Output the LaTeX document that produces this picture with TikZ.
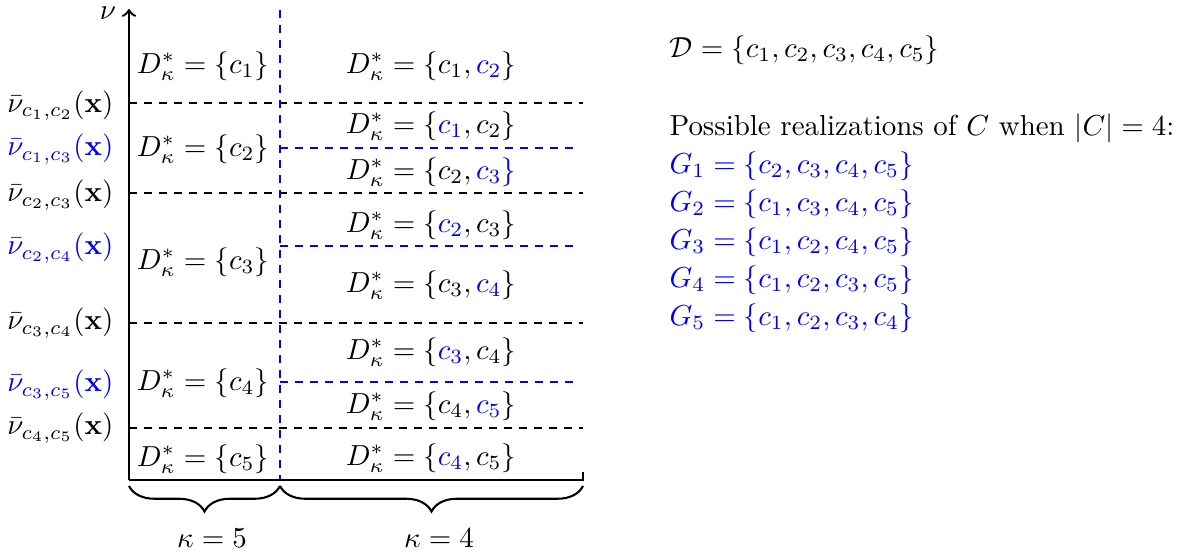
\documentclass[tikz,border=0pt]{standalone}
\usetikzlibrary{decorations.pathreplacing}
\begin{document}
\begin{tikzpicture}[x=0.33333pt,y=-0.33333pt,
  every node/.append style={scale=0.965},
  axis/.style={line width=0.8pt},
  bdash/.style={line width=0.7pt, dash pattern=on 2.8pt off 2.2pt},
  bluedash/.style={bdash, blue},
  lbl/.style={anchor=east, inner sep=0pt},
  setl/.style={inner sep=0pt},
  rtxt/.style={anchor=base west, inner sep=0pt},
  brc/.style={line width=0.7pt, decorate, decoration={brace, mirror, amplitude=8.5pt}}]
\useasboundingbox (0,0) rectangle (1185,556);
% axes
\coordinate (O) at (129,480);
\coordinate (Ytop) at (129,9);
\coordinate (Xend) at (583,480);
\coordinate (Xtick) at (583,472);
\draw[axis,->] (O) -- (Ytop);
\draw[axis] (O) -- (Xend) -- (Xtick);
\node[inner sep=0pt] (nu) at (108,13) {$\nu$};
% black dashed thresholds
\foreach \y in {103,193,323,428} {
  \draw[bdash] (129,\y) -- (583,\y);
}
% blue dashed
\coordinate (Vtop) at (280,10);
\coordinate (Vbot) at (280,480);
\draw[bluedash] (Vtop) -- (Vbot);
\foreach \y in {148,246,382} {
  \draw[bluedash] (280,\y) -- (577,\y);
}
% left labels
\node[lbl] (l12) at (114,105.5) {$\bar\nu_{c_1,c_2}(\mathbf{x})$};
\node[lbl,text=blue] (l13) at (114,149) {$\bar\nu_{c_1,c_3}(\mathbf{x})$};
\node[lbl] (l23) at (114,195) {$\bar\nu_{c_2,c_3}(\mathbf{x})$};
\node[lbl,text=blue] (l24) at (114,248) {$\bar\nu_{c_2,c_4}(\mathbf{x})$};
\node[lbl] (l34) at (114,323) {$\bar\nu_{c_3,c_4}(\mathbf{x})$};
\node[lbl,text=blue] (l35) at (114,385) {$\bar\nu_{c_3,c_5}(\mathbf{x})$};
\node[lbl] (l45) at (114,428) {$\bar\nu_{c_4,c_5}(\mathbf{x})$};
% kappa = 5 column
\node[setl] (a1) at (203,66) {$D^*_\kappa = \{c_1\}$};
\node[setl] (a2) at (203,149) {$D^*_\kappa = \{c_2\}$};
\node[setl] (a3) at (203,262) {$D^*_\kappa = \{c_3\}$};
\node[setl] (a4) at (203,383) {$D^*_\kappa = \{c_4\}$};
\node[setl] (a5) at (203,459) {$D^*_\kappa = \{c_5\}$};
% kappa = 4 column
\node[setl] (b1) at (431,66) {$D^*_\kappa = \{c_1, \textcolor{blue}{c_2}\}$};
\node[setl] (b2) at (431,126) {$D^*_\kappa = \{\textcolor{blue}{c_1}, c_2\}$};
\node[setl] (b3) at (431,172) {$D^*_\kappa = \{c_2, \textcolor{blue}{c_3\}}$};
\node[setl] (b4) at (431,225) {$D^*_\kappa = \{\textcolor{blue}{c_2}, c_3\}$};
\node[setl] (b5) at (431,285) {$D^*_\kappa = \{c_3, \textcolor{blue}{c_4}\}$};
\node[setl] (b6) at (431,352) {$D^*_\kappa = \{\textcolor{blue}{c_3}, c_4\}$};
\node[setl] (b7) at (431,406) {$D^*_\kappa = \{c_4, \textcolor{blue}{c_5}\}$};
\node[setl] (b8) at (431,458) {$D^*_\kappa = \{\textcolor{blue}{c_4}, c_5\}$};
% braces
\coordinate (B1) at (129,486);
\coordinate (B2) at (280,486);
\coordinate (B3) at (583,486);
\draw[brc] (B1) -- (B2);
\draw[brc] (B2) -- (B3);
\node (k5) at (212,538) {$\kappa = 5$};
\node (k4) at (439,538) {$\kappa = 4$};
% right text
\node[rtxt] (D) at (669,57) {$\mathcal{D} = \{c_1, c_2, c_3, c_4, c_5\}$};
\node[rtxt] (P) at (669,135) {Possible realizations of $C$ when $|C| = 4$:};
\node[rtxt,text=blue] (G1) at (669,173) {$G_1 = \{c_2, c_3, c_4, c_5\}$};
\node[rtxt,text=blue] (G2) at (669,211) {$G_2 = \{c_1, c_3, c_4, c_5\}$};
\node[rtxt,text=blue] (G3) at (669,249) {$G_3 = \{c_1, c_2, c_4, c_5\}$};
\node[rtxt,text=blue] (G4) at (669,287) {$G_4 = \{c_1, c_2, c_3, c_5\}$};
\node[rtxt,text=blue] (G5) at (669,325) {$G_5 = \{c_1, c_2, c_3, c_4\}$};
\end{tikzpicture}
\end{document}
